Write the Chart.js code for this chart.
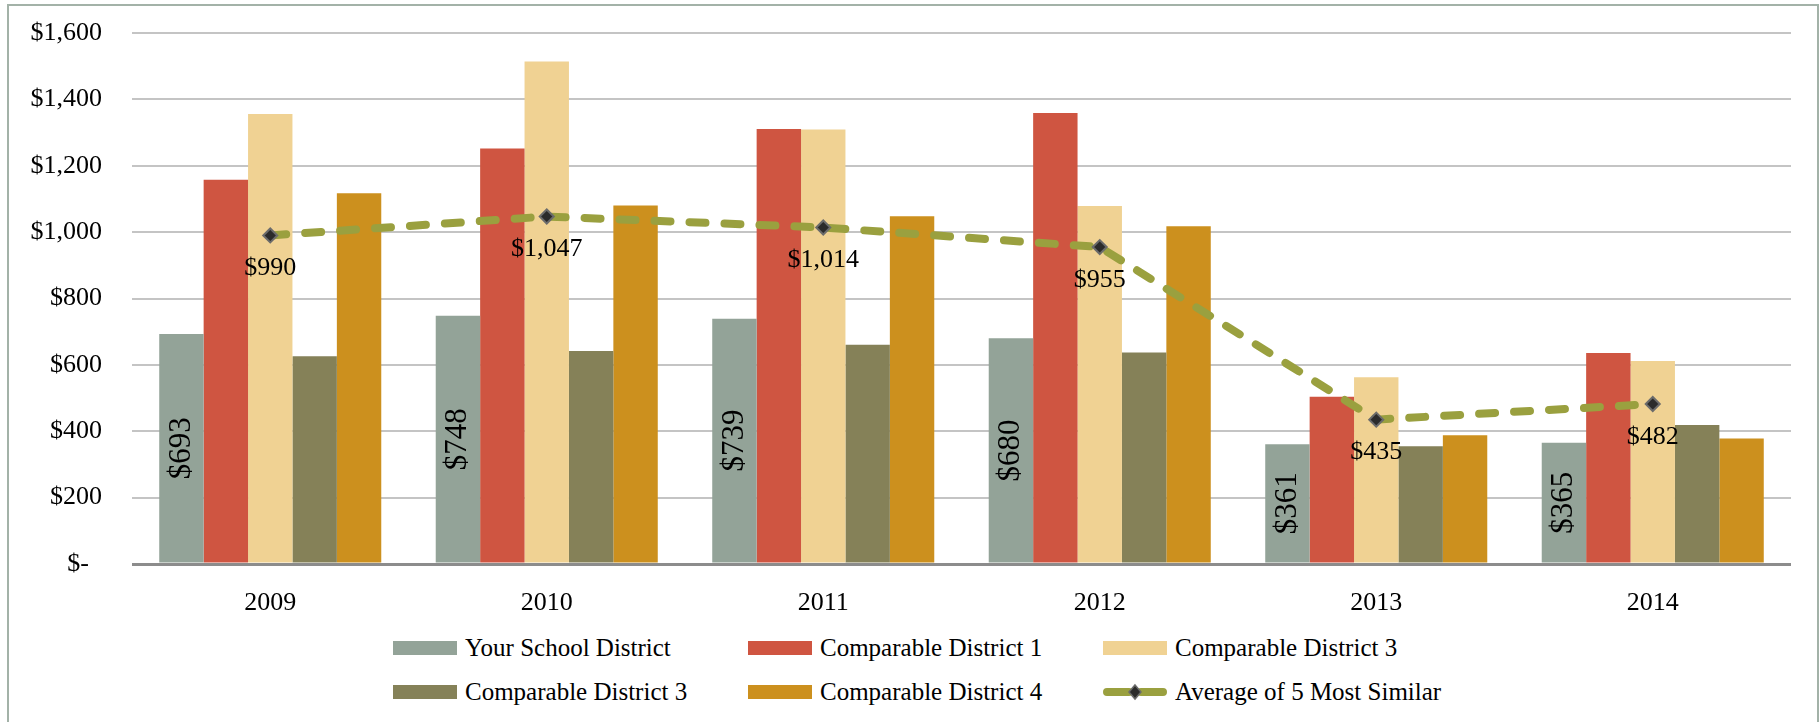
<!DOCTYPE html>
<html>
<head>
<meta charset="utf-8">
<script src="https://cdn.jsdelivr.net/npm/chart.js@4.4.1/dist/chart.umd.min.js"></script>
<style>
  body { margin: 0; background: #fff; font-family: "Liberation Serif", serif; }
  .frame { position: absolute; left: 7px; top: 4px; width: 1812px; height: 760px; border: 2px solid #a3b2a8; box-sizing: border-box; }
  .chart-box { position: absolute; left: 0; top: 0; width: 1820px; height: 625px; }
  .legend { position: absolute; left: 393px; top: 626px; display: grid; grid-template-columns: repeat(3, 355px); }
  .legend-item { display: flex; align-items: center; height: 44px; font-size: 25px; color: #000; white-space: nowrap; }
  .swatch { width: 64px; height: 14px; margin-right: 8px; flex: none; }
  .legend-item canvas { margin-right: 8px; flex: none; }
</style>
</head>
<body>
<div class="frame"></div>
<div class="chart-box"><canvas id="myChart"></canvas></div>
<div class="legend" id="legend"></div>
<script>
const years = ["2009", "2010", "2011", "2012", "2013", "2014"];
const yourDistrict = [693, 748, 739, 680, 361, 365];
const district1 = [1158, 1252, 1311, 1359, 504, 636];
const district3a = [1356, 1514, 1309, 1079, 563, 612];
const district3b = [626, 642, 661, 637, 355, 419];
const district4 = [1117, 1080, 1048, 1018, 388, 378];
const average = [990, 1047, 1014, 955, 435, 482];
const yTicks = [0, 200, 400, 600, 800, 1000, 1200, 1400, 1600];

const FONT = '"Liberation Serif", serif';
const LINE_COLOR = "#9aa03f";

function money(v) {
  return "$" + v.toLocaleString("en-US");
}

// value labels: rotated inside the first bar series, plain under the average line
const valueLabels = {
  id: "valueLabels",
  afterDatasetsDraw(chart) {
    const ctx = chart.ctx;
    ctx.save();
    ctx.fillStyle = "#000";
    ctx.textAlign = "center";
    ctx.textBaseline = "middle";
    ctx.font = "31px " + FONT;
    chart.getDatasetMeta(0).data.forEach((bar, i) => {
      ctx.save();
      ctx.translate(bar.x, (bar.y + bar.base) / 2);
      ctx.rotate(-Math.PI / 2);
      ctx.fillText(money(yourDistrict[i]), 0, 0);
      ctx.restore();
    });
    ctx.font = "26px " + FONT;
    chart.getDatasetMeta(5).data.forEach((pt, i) => {
      ctx.fillText(money(average[i]), pt.x, pt.y + 33);
    });
    ctx.restore();
  },
};

function bar(label, data, color) {
  return { type: "bar", label: label, data: data, backgroundColor: color, borderWidth: 0, order: 1 };
}

const ctx = document.getElementById("myChart");
const chart = new Chart(ctx, {
  type: "bar",
  data: {
    labels: years,
    datasets: [
      bar("Your School District", yourDistrict, "#93a398"),
      bar("Comparable District 1", district1, "#cf5541"),
      bar("Comparable District 3", district3a, "#f0d293"),
      bar("Comparable District 3", district3b, "#858158"),
      bar("Comparable District 4", district4, "#cc901e"),
      {
        type: "line",
        label: "Average of 5 Most Similar",
        data: average,
        borderColor: LINE_COLOR,
        borderWidth: 8,
        borderDash: [16, 19],
        borderCapStyle: "round",
        tension: 0,
        pointStyle: "rectRot",
        pointRadius: 7,
        pointBackgroundColor: "#2b2b2b",
        pointBorderColor: "#6b6b6b",
        pointBorderWidth: 2,
        order: 0,
      },
    ],
  },
  options: {
    responsive: true,
    maintainAspectRatio: false,
    animation: false,
    layout: { padding: { top: 33, right: 29, left: 0, bottom: 0 } },
    plugins: { legend: { display: false }, tooltip: { enabled: false } },
    datasets: { bar: { categoryPercentage: 0.803, barPercentage: 1 } },
    scales: {
      x: {
        grid: { display: false },
        border: { display: false },
        ticks: { color: "#000", font: { family: FONT, size: 26 }, padding: 16 },
        afterFit: (s) => { s.height = 61; },
      },
      y: {
        min: 0,
        max: 1600,
        afterBuildTicks: (s) => { s.ticks = yTicks.map((v) => ({ value: v })); },
        grid: {
          drawTicks: true,
          tickLength: 28,
          tickColor: "rgba(0,0,0,0)",
          color: (c) => (c.tick && c.tick.value === 0 ? "#8c8c8c" : "#c4c4c4"),
          lineWidth: (c) => (c.tick && c.tick.value === 0 ? 3 : 2),
        },
        border: { display: false },
        ticks: {
          color: "#000",
          font: { family: FONT, size: 26 },
          padding: 2,
          callback: (v) => (v === 0 ? "$-\u2002" : money(v)),
        },
        afterFit: (s) => { s.width = 132; },
      },
    },
  },
  plugins: [valueLabels],
});

// html legend in a fixed three-column grid
const legend = document.getElementById("legend");
chart.data.datasets.forEach((ds) => {
  const item = document.createElement("div");
  item.className = "legend-item";
  if (ds.type === "line") {
    const c = document.createElement("canvas");
    c.width = 64;
    c.height = 20;
    const g = c.getContext("2d");
    g.strokeStyle = LINE_COLOR;
    g.lineWidth = 8;
    g.lineCap = "round";
    g.beginPath();
    g.moveTo(4, 10); g.lineTo(26, 10);
    g.moveTo(38, 10); g.lineTo(60, 10);
    g.stroke();
    g.beginPath();
    g.moveTo(32, 3); g.lineTo(38, 10); g.lineTo(32, 17); g.lineTo(26, 10); g.closePath();
    g.fillStyle = "#2b2b2b";
    g.fill();
    g.strokeStyle = "#6b6b6b";
    g.lineWidth = 1.5;
    g.stroke();
    item.appendChild(c);
  } else {
    const sw = document.createElement("span");
    sw.className = "swatch";
    sw.style.background = ds.backgroundColor;
    item.appendChild(sw);
  }
  const txt = document.createElement("span");
  txt.textContent = ds.label;
  item.appendChild(txt);
  legend.appendChild(item);
});
</script>
</body>
</html>
